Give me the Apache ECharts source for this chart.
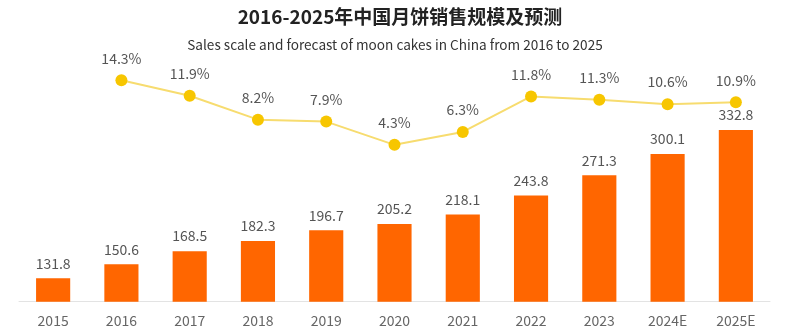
<!DOCTYPE html>
<html>
<head>
<meta charset="utf-8">
<script src="https://cdn.jsdelivr.net/npm/echarts@6/dist/echarts.min.js"></script>
<style>
  html, body { margin: 0; padding: 0; background: #fff; }
  #chart { width: 792px; height: 331px; }
</style>
</head>
<body>
<div id="chart"></div>
<script>
// Years (E = estimate)
const categories = ['2015', '2016', '2017', '2018', '2019', '2020', '2021', '2022', '2023', '2024E', '2025E'];
// Sales scale (bars)
const salesScale = [131.8, 150.6, 168.5, 182.3, 196.7, 205.2, 218.1, 243.8, 271.3, 300.1, 332.8];
// Year-on-year growth in % (line); no value for the first year
const growthRate = ['-', 14.3, 11.9, 8.2, 7.9, 4.3, 6.3, 11.8, 11.3, 10.6, 10.9];

const FONT = '"Noto Sans CJK SC", "Noto Sans", sans-serif';

const chart = echarts.init(document.getElementById('chart'), null, { renderer: 'canvas' });

chart.setOption({
  animation: false,
  backgroundColor: '#ffffff',
  textStyle: { fontFamily: FONT },
  title: [
    {
      text: '2016-2025年中国月饼销售规模及预测',
      left: 395,
      top: 2,
      textAlign: 'center',
      textStyle: { fontFamily: FONT, fontSize: 19, fontWeight: 'bold', color: '#222222' }
    },
    {
      text: 'Sales scale and forecast of moon cakes in China from 2016 to 2025',
      left: 390,
      top: 33,
      textAlign: 'center',
      textStyle: { fontFamily: FONT, fontSize: 13.6, fontWeight: 'normal', color: '#333333' }
    }
  ],
  grid: { left: 19, right: 22, top: 43.5, bottom: 29.3, containLabel: false },
  xAxis: {
    type: 'category',
    data: categories,
    boundaryGap: true,
    axisTick: { show: false },
    axisLine: { show: true, onZero: false, lineStyle: { color: '#e3e3e3', width: 1 } },
    axisLabel: { margin: 12, fontSize: 14, color: '#666666', fontFamily: FONT }
  },
  yAxis: [
    { type: 'value', min: 100, max: 450, show: false },
    { type: 'value', min: -20, max: 20, show: false }
  ],
  series: [
    {
      name: '销售规模',
      type: 'bar',
      data: salesScale,
      barWidth: '50%',
      itemStyle: { color: '#ff6600' },
      label: {
        show: true,
        position: 'top',
        distance: 8,
        fontSize: 14,
        color: '#555555',
        fontFamily: FONT
      }
    },
    {
      name: '增长率',
      type: 'line',
      yAxisIndex: 1,
      data: growthRate,
      symbol: 'circle',
      symbolSize: 12,
      lineStyle: { color: '#f7dc6f', width: 2 },
      itemStyle: { color: '#f7c600' },
      label: {
        show: true,
        position: 'top',
        distance: 9,
        fontSize: 14,
        color: '#555555',
        fontFamily: FONT,
        formatter: '{c}%'
      }
    }
  ]
});
</script>
</body>
</html>
